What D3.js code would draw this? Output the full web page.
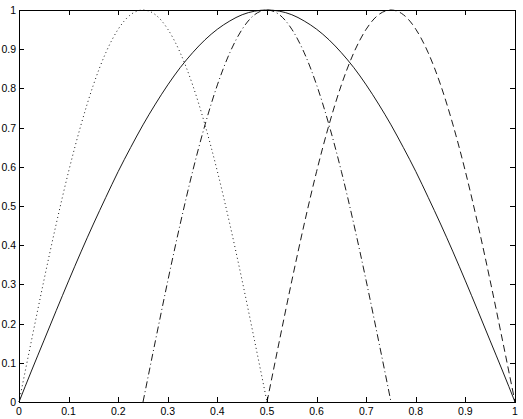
<!DOCTYPE html>
<html>
<head>
<meta charset="utf-8">
<script src="https://cdn.jsdelivr.net/npm/d3@7"></script>
<style>
  body { margin: 0; background: #fff; }
  text { font-family: "Liberation Sans", Arial, sans-serif; font-size: 10.5px; fill: #000; }
</style>
</head>
<body>
<div id="chart"></div>
<script>
// x ticks / y ticks
let xTicks = [0, 0.1, 0.2, 0.3, 0.4, 0.5, 0.6, 0.7, 0.8, 0.9, 1];
let yTicks = [0, 0.1, 0.2, 0.3, 0.4, 0.5, 0.6, 0.7, 0.8, 0.9, 1];

// solid curve, x = 0 .. 1 step 0.025
let solidX = d3.range(0, 41).map(i => i / 40);
let solidY = [0, 0.079, 0.156, 0.233, 0.309, 0.383, 0.454, 0.522, 0.588, 0.649, 0.707,
    0.760, 0.809, 0.853, 0.891, 0.924, 0.951, 0.972, 0.988, 0.997, 1,
    0.997, 0.988, 0.972, 0.951, 0.924, 0.891, 0.853, 0.809, 0.760, 0.707,
    0.649, 0.588, 0.522, 0.454, 0.383, 0.309, 0.233, 0.156, 0.079, 0];

// the three narrow humps, each over half the range, step 0.025
let humpY = [0, 0.156, 0.309, 0.454, 0.588, 0.707, 0.809, 0.891, 0.951, 0.988, 1,
    0.988, 0.951, 0.891, 0.809, 0.707, 0.588, 0.454, 0.309, 0.156, 0];
let dottedX = d3.range(0, 21).map(i => i / 40);
let dashDotX = d3.range(0, 21).map(i => 0.25 + i / 40);
let dashedX = d3.range(0, 21).map(i => 0.5 + i / 40);

let margin = { top: 10, right: 8, bottom: 17, left: 19 };
let width = 523 - margin.left - margin.right;
let height = 419 - margin.top - margin.bottom;

let svg = d3.select('#chart')
    .append('svg')
        .attr('width', 523)
        .attr('height', 419);

let g = svg.append('g')
    .attr('transform', "translate(" + margin.left + "," + margin.top + ")");

let x = d3.scaleLinear().domain([0, 1]).range([0, width]);
let y = d3.scaleLinear().domain([0, 1]).range([height, 0]);

let tick = 5;

// box
g.append('rect')
    .attr('width', width)
    .attr('height', height)
    .attr('fill', 'none')
    .attr('stroke', '#000')
    .attr('stroke-width', 1)
    .attr('shape-rendering', 'crispEdges');

// ticks on all four sides, pointing inward
xTicks.forEach(function (d) {
    let px = Math.round(x(d)) + 0.5;
    g.append('line').attr('x1', px).attr('x2', px).attr('y1', height).attr('y2', height - tick)
        .attr('stroke', '#000');
    g.append('line').attr('x1', px).attr('x2', px).attr('y1', 0).attr('y2', tick)
        .attr('stroke', '#000');
    g.append('text')
        .attr('x', x(d))
        .attr('y', height + 12.5)
        .attr('text-anchor', 'middle')
        .text(d);
});

yTicks.forEach(function (d) {
    let py = Math.round(y(d)) + 0.5;
    g.append('line').attr('x1', 0).attr('x2', tick).attr('y1', py).attr('y2', py)
        .attr('stroke', '#000');
    g.append('line').attr('x1', width).attr('x2', width - tick).attr('y1', py).attr('y2', py)
        .attr('stroke', '#000');
    g.append('text')
        .attr('x', -3)
        .attr('y', y(d) + 4)
        .attr('text-anchor', 'end')
        .text(d);
});

let line = d3.line()
    .x(d => x(d[0]))
    .y(d => y(d[1]))
    .curve(d3.curveMonotoneX);

function drawCurve(xs, ys, dash) {
    g.append('path')
        .datum(xs.map((v, i) => [v, ys[i]]))
        .attr('fill', 'none')
        .attr('stroke', '#000')
        .attr('stroke-width', 0.9)
        .attr('stroke-dasharray', dash)
        .attr('d', line);
}

drawCurve(solidX, solidY, null);
drawCurve(dottedX, humpY, '1,3');
drawCurve(dashDotX, humpY, '7,3,1,3');
drawCurve(dashedX, humpY, '7,4');
</script>
</body>
</html>
